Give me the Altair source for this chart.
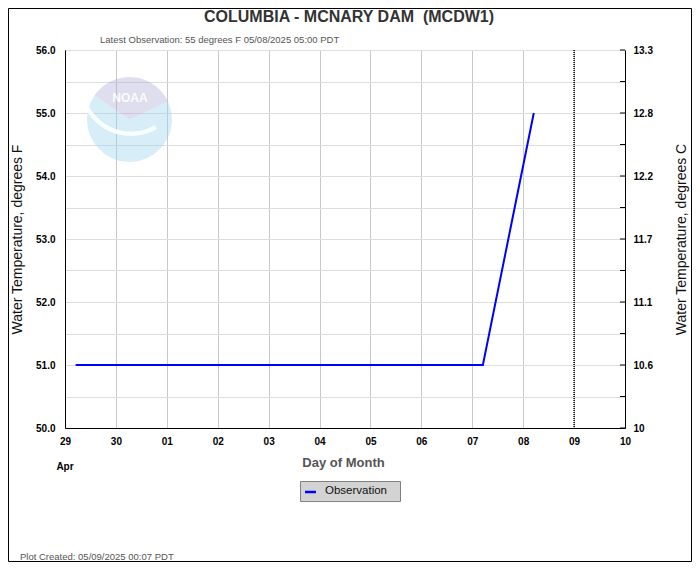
import altair as alt
import pandas as pd

# ---------------- data ----------------
obs_times = [
    "2025-04-29T05:00:00", "2025-04-30T05:00:00", "2025-05-01T05:00:00",
    "2025-05-02T05:00:00", "2025-05-03T05:00:00", "2025-05-04T05:00:00",
    "2025-05-05T05:00:00", "2025-05-06T05:00:00", "2025-05-07T05:00:00",
    "2025-05-08T05:00:00",
]
obs_temp_f = [51, 51, 51, 51, 51, 51, 51, 51, 51, 55]

y_tick_values = [50.0, 50.5, 51.0, 51.5, 52.0, 52.5, 53.0, 53.5,
                 54.0, 54.5, 55.0, 55.5, 56.0]
y_domain = [50, 56]
now_time = ["2025-05-09T00:00:00"]
month_label_time = ["2025-04-29T00:00:00"]
month_label = ["Apr"]

title_text = "COLUMBIA - MCNARY DAM \u00a0(MCDW1)"
latest_text = "Latest Observation: 55 degrees F 05/08/2025 05:00 PDT"
created_text = "Plot Created: 05/09/2025 00:07 PDT"
legend_text = "Observation"

FONT = "Liberation Sans, Arial, sans-serif"
W, H = 560, 378

obs_df = pd.DataFrame({"time": obs_times, "temp_f": obs_temp_f})
tick_df = pd.DataFrame({"v": y_tick_values})
now_df = pd.DataFrame({"time": now_time})
month_df = pd.DataFrame({"time": month_label_time, "label": month_label})
one = pd.DataFrame({"k": [0]})

x_scale = alt.Scale(domain=[alt.DateTime(year=2025, month=4, date=29, hours=0),
                            alt.DateTime(year=2025, month=5, date=10, hours=0)])
y_scale = alt.Scale(domain=y_domain, nice=False, zero=False)

left_expr = "datum.value % 1 == 0 ? format(datum.value, '.1f') : ''"
right_expr = "datum.value % 1 == 0 ? '' + round((datum.value - 32) * 50 / 9) / 10 : ''"

# ---------------- logo (decoration) ----------------
logo_cx, logo_cy = 64.5, 69.5
logo_blue = alt.Chart(one).mark_arc(
    theta=1.134, theta2=5.323, radius=42.5, fill="#9bd4ed", fillOpacity=0.4
).encode(x=alt.value(logo_cx), y=alt.value(logo_cy))
logo_lav = alt.Chart(one).mark_arc(
    theta=5.323, theta2=7.417, radius=42.5, fill="#a9a9d3", fillOpacity=0.38
).encode(x=alt.value(logo_cx), y=alt.value(logo_cy))
logo_bird = alt.Chart(one).mark_arc(
    theta=2.62, theta2=4.22, radius=52, radius2=47.5, fill="white", fillOpacity=0.85
).encode(x=alt.value(66), y=alt.value(34))
logo_text = alt.Chart(one).mark_text(
    text="NOAA", font=FONT, fontSize=12, fontWeight="bold", color="white", opacity=0.9,
    align="center", baseline="middle"
).encode(x=alt.value(65), y=alt.value(48))

# ---------------- data line & axes ----------------
line = alt.Chart(obs_df).mark_line(color="#0000ff", strokeWidth=2).encode(
    x=alt.X("time:T", scale=x_scale, axis=alt.Axis(
        format="%d", tickCount={"interval": "day", "step": 1},
        labelFlush=False, labelOverlap=False, grid=True, gridColor="#c8c8c8",
        ticks=False, domainColor="black", labelFont=FONT, labelFontWeight="bold",
        labelFontSize=10, labelColor="black", labelPadding=8,
        title="Day of Month", titleFont=FONT, titleFontSize=13, titleFontWeight="bold",
        titleColor="#555555", titleX=278, titleY=34, titleBaseline="middle",
        titleAlign="center")),
    y=alt.Y("temp_f:Q", scale=y_scale, axis=alt.Axis(
        values=y_tick_values, labelExpr=left_expr, grid=True, gridColor="#dddddd",
        ticks=False, domainColor="black", labelFont=FONT, labelFontWeight="bold",
        labelFontSize=10, labelColor="black", labelPadding=10,
        title="Water Temperature, degrees F", titleFont=FONT, titleFontSize=14,
        titleFontWeight="normal", titleColor="#111111", titleX=-48, titleY=189,
        titleAngle=270, titleAlign="center", titleBaseline="middle")),
)

right_ticks = alt.Chart(tick_df).mark_rule(color="black", strokeWidth=1).encode(
    y=alt.Y("v:Q", scale=y_scale, axis=alt.Axis(
        orient="right", values=y_tick_values, labelExpr=right_expr, grid=False,
        ticks=False, domainColor="black", labelFont=FONT, labelFontWeight="bold",
        labelFontSize=10, labelColor="black", labelPadding=8,
        title="Water Temperature, degrees C", titleFont=FONT, titleFontSize=14,
        titleFontWeight="normal", titleColor="#111111", titleX=56, titleY=189,
        titleAngle=270, titleAlign="center", titleBaseline="middle")),
    x=alt.value(W - 5), x2=alt.value(W),
)

now_rule = alt.Chart(now_df).mark_rule(color="black", strokeWidth=1.5, strokeDash=[1, 1]).encode(
    x=alt.X("time:T", scale=x_scale), y=alt.value(0), y2=alt.value(H)
)

month_text = alt.Chart(month_df).mark_text(
    font=FONT, fontSize=10, fontWeight="bold", color="black", align="center", baseline="middle"
).encode(x=alt.X("time:T", scale=x_scale), y=alt.value(417), text="label:N")

# ---------------- texts ----------------
def txt(t, x, y, size, weight="normal", color="#555555", align="left"):
    return alt.Chart(one).mark_text(
        text=t, font=FONT, fontSize=size, fontWeight=weight, color=color,
        align=align, baseline="middle"
    ).encode(x=alt.value(x), y=alt.value(y))

title = txt(title_text, 284, -33, 16, "bold", "#333333", "center")
latest = txt(latest_text, 35, -10, 9.5, "normal", "#555555")
created = txt(created_text, -45, 507, 9.5, "normal", "#555555")

legend_box = alt.Chart(one).mark_rect(fill="#d3d3d3", stroke="#808080", strokeWidth=1).encode(
    x=alt.value(235.5), x2=alt.value(335.5), y=alt.value(431.5), y2=alt.value(451.5)
)
legend_line = alt.Chart(one).mark_rule(color="#0000ff", strokeWidth=2.5).encode(
    x=alt.value(240), x2=alt.value(251), y=alt.value(442)
)
legend_label = txt(legend_text, 260, 441, 11.5, "normal", "#111111")

border = alt.Chart(one).mark_rect(fillOpacity=0, stroke="black", strokeWidth=1).encode(
    x=alt.value(-56.5), x2=alt.value(626.5), y=alt.value(-41.5), y2=alt.value(511.5)
)

chart = alt.layer(
    logo_blue, logo_lav, logo_bird, logo_text,
    line, right_ticks, now_rule, month_text,
    title, latest, created, legend_box, legend_line, legend_label, border,
).resolve_axis(y="independent").properties(
    width=W, height=H,
    autosize=alt.AutoSizeParams(type="none"),
    padding={"left": 57, "top": 42, "right": 67, "bottom": 134},
    background="white",
).configure_view(stroke="black", strokeWidth=1)

chart.save("out.html", embed_options={"renderer": "svg", "actions": False})
